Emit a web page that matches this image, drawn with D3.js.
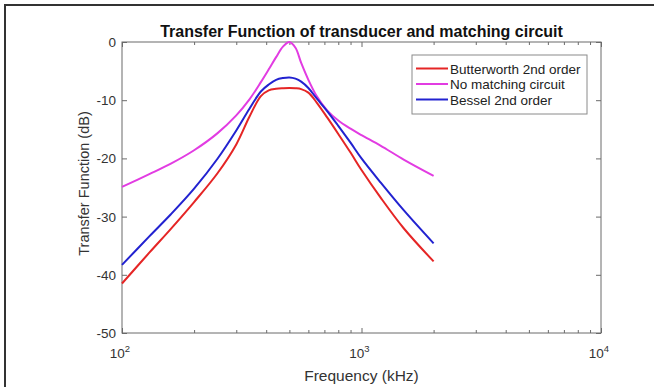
<!DOCTYPE html>
<html>
<head>
<meta charset="utf-8">
<script src="https://cdn.jsdelivr.net/npm/d3@7"></script>
<style>
  body { margin: 0; background: #fff; }
  svg { display: block; font-family: "Liberation Sans", Arial, sans-serif; }
</style>
</head>
<body>
<svg id="chart" width="654" height="387"></svg>
<script>
// frequencies (kHz) shared by all series
const freqs = [100, 130, 160, 200, 250, 300, 340, 380, 410, 440, 470, 500, 530, 560, 600, 650, 720, 800, 900, 1000, 1200, 1500, 2000];

const butterworth = [-41.5, -36.2, -32.1, -27.5, -22.6, -17.6, -12.9, -9.3, -8.3, -8.05, -7.95, -7.9, -7.95, -8.1, -8.7, -10.4, -13.0, -15.8, -19.0, -22.0, -26.7, -32.0, -37.7];
const noMatching  = [-24.9, -22.7, -20.9, -18.6, -15.7, -12.6, -9.9, -6.9, -4.7, -2.6, -0.8, 0.0, -1.0, -3.6, -6.5, -9.3, -11.8, -13.5, -14.9, -16.0, -17.8, -20.2, -23.0];
const bessel      = [-38.3, -33.4, -29.6, -25.2, -20.1, -15.2, -11.5, -8.5, -7.3, -6.5, -6.2, -6.1, -6.3, -6.8, -7.9, -9.7, -11.9, -14.4, -17.3, -20.0, -24.1, -28.9, -34.6];

const seriesNames = ["Butterworth 2nd order", "No matching circuit", "Bessel 2nd order"];
const seriesColors = ["#e52525", "#e23ce2", "#2222d0"];

const xMajorTicks = [100, 1000, 10000];
const xExponents = ["2", "3", "4"];
const xMinorTicks = [200, 300, 400, 500, 600, 700, 800, 900, 2000, 3000, 4000, 5000, 6000, 7000, 8000, 9000];
const yTicks = [-50, -40, -30, -20, -10, 0];

const svg = d3.select("#chart");
const plotLeft = 122, plotRight = 601, plotTop = 42, plotBottom = 333;

// outer frame
svg.append("path")
  .attr("d", "M5,400V5H700")
  .attr("fill", "none")
  .attr("stroke", "#333")
  .attr("stroke-width", 2);

const x = d3.scaleLog().domain([100, 10000]).range([plotLeft, plotRight]);
const y = d3.scaleLinear().domain([-50, 0]).range([plotBottom, plotTop]);

const axisColor = "#6b6b6b";

function styleAxis(g) {
  g.select(".domain").remove();
  g.selectAll(".tick line").attr("stroke", axisColor);
  g.selectAll(".tick text").remove();
}

// ticks, pointing inward on all four sides
svg.append("g").attr("transform", `translate(0,${plotBottom})`)
  .call(d3.axisBottom(x).tickValues(xMajorTicks).tickSize(-5)).call(styleAxis);
svg.append("g").attr("transform", `translate(0,${plotBottom})`)
  .call(d3.axisBottom(x).tickValues(xMinorTicks).tickSize(-3)).call(styleAxis);
svg.append("g").attr("transform", `translate(0,${plotTop})`)
  .call(d3.axisTop(x).tickValues(xMajorTicks).tickSize(-5)).call(styleAxis);
svg.append("g").attr("transform", `translate(0,${plotTop})`)
  .call(d3.axisTop(x).tickValues(xMinorTicks).tickSize(-3)).call(styleAxis);
svg.append("g").attr("transform", `translate(${plotLeft},0)`)
  .call(d3.axisLeft(y).tickValues(yTicks).tickSize(-5)).call(styleAxis);
svg.append("g").attr("transform", `translate(${plotRight},0)`)
  .call(d3.axisRight(y).tickValues(yTicks).tickSize(-5)).call(styleAxis);

// box
svg.append("rect")
  .attr("x", plotLeft).attr("y", plotTop)
  .attr("width", plotRight - plotLeft).attr("height", plotBottom - plotTop)
  .attr("fill", "none").attr("stroke", axisColor).attr("stroke-width", 1);

// y tick labels
svg.append("g").selectAll("text")
  .data(yTicks)
  .enter().append("text")
  .attr("x", plotLeft - 6)
  .attr("y", d => y(d) + 5)
  .attr("text-anchor", "end")
  .attr("font-size", 13.5)
  .attr("fill", "#333")
  .text(d => d);

// x tick labels with exponents
const xl = svg.append("g").selectAll("text")
  .data(xMajorTicks)
  .enter().append("text")
  .attr("x", d => x(d) - 2)
  .attr("y", plotBottom + 25)
  .attr("text-anchor", "middle")
  .attr("font-size", 13.5)
  .attr("fill", "#333");
xl.append("tspan").text("10");
xl.append("tspan").attr("dy", -6).attr("font-size", 9.5).text((d, i) => xExponents[i]);

// axis labels and title
svg.append("text")
  .attr("x", (plotLeft + plotRight) / 2).attr("y", 381)
  .attr("text-anchor", "middle").attr("font-size", 15.5).attr("fill", "#333")
  .text("Frequency (kHz)");

svg.append("text")
  .attr("transform", `translate(89,${(plotTop + plotBottom) / 2 - 4}) rotate(-90)`)
  .attr("text-anchor", "middle").attr("font-size", 14.5).attr("fill", "#333")
  .text("Transfer Function (dB)");

svg.append("text")
  .attr("x", (plotLeft + plotRight) / 2).attr("y", 37)
  .attr("text-anchor", "middle").attr("font-size", 16).attr("font-weight", "bold").attr("fill", "#111")
  .text("Transfer Function of transducer and matching circuit");

// curves
const line = d3.line()
  .x(d => x(d[0]))
  .y(d => y(d[1]))
  .curve(d3.curveCatmullRom.alpha(0.5));

const allSeries = [butterworth, noMatching, bessel];
svg.append("g").selectAll("path")
  .data(allSeries)
  .enter().append("path")
  .attr("d", vals => line(freqs.map((f, i) => [f, vals[i]])))
  .attr("fill", "none")
  .attr("stroke", (d, i) => seriesColors[i])
  .attr("stroke-width", 2);

// legend
const lg = svg.append("g").attr("transform", "translate(412,55)");
lg.append("rect")
  .attr("width", 175).attr("height", 59)
  .attr("fill", "#fff").attr("stroke", "#8a8a8a").attr("stroke-width", 1);
const items = lg.selectAll("g.item")
  .data(seriesNames)
  .enter().append("g")
  .attr("transform", (d, i) => `translate(0,${13.5 + i * 15.5})`);
items.append("line")
  .attr("x1", 4).attr("x2", 36)
  .attr("stroke", (d, i) => seriesColors[i]).attr("stroke-width", 2);
items.append("text")
  .attr("x", 38).attr("y", 5)
  .attr("font-size", 13.5).attr("fill", "#222")
  .text(d => d);
</script>
</body>
</html>
